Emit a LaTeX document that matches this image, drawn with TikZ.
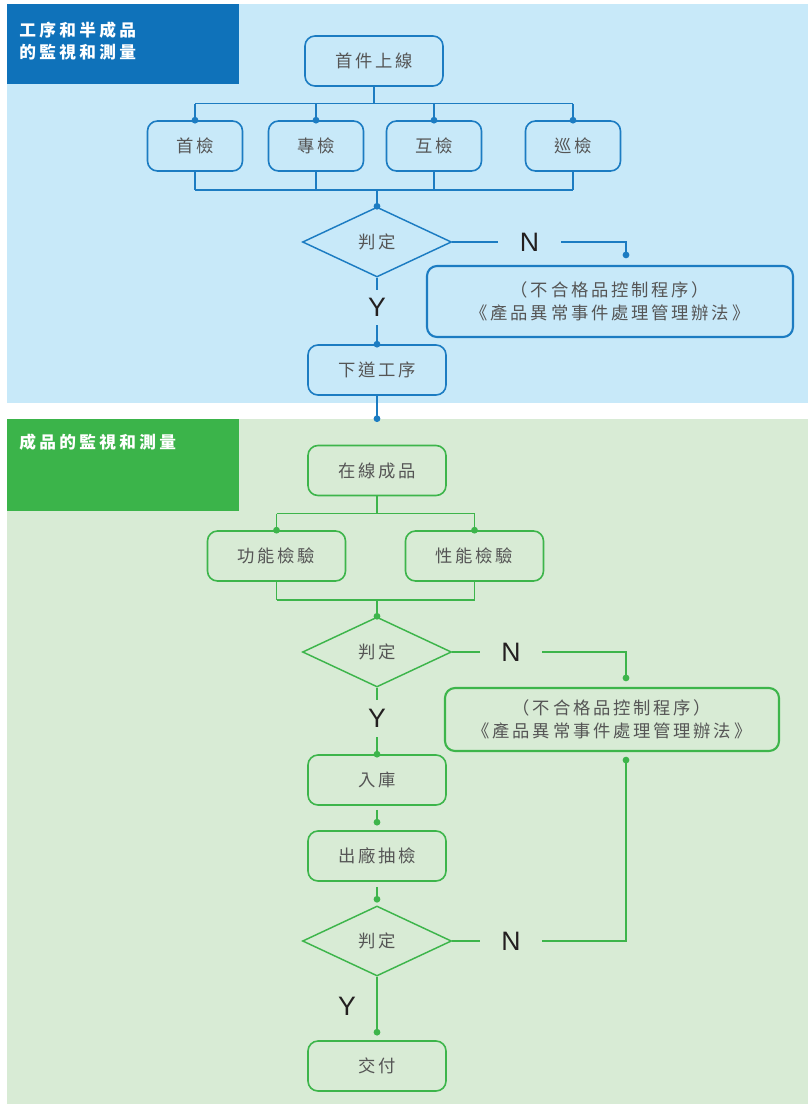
\documentclass[tikz,border=0pt]{standalone}
\usepackage{fontspec}
\usetikzlibrary{shapes.geometric,arrows.meta}
\newfontfamily\cjkfont[LetterSpace=16]{Noto Sans CJK TC}
\newfontfamily\titlefont[LetterSpace=20]{Noto Sans CJK TC}
\newfontfamily\latfont{Liberation Sans}
\definecolor{bluebg}{HTML}{C8E9F9}
\definecolor{bluedark}{HTML}{0F72BA}
\definecolor{blueline}{HTML}{1C7CC2}
\definecolor{greenbg}{HTML}{D8EBD5}
\definecolor{greendark}{HTML}{3BB44A}
\definecolor{greenline}{HTML}{3DB54B}
\definecolor{txtgray}{HTML}{555555}
\definecolor{ynblack}{HTML}{231F20}
\begin{document}
\begin{tikzpicture}[x=0.75pt,y=-0.75pt,
	box/.style={draw=#1,rounded corners=7.5pt,line width=1.2pt,inner sep=0pt,text=txtgray,
		font=\cjkfont\fontsize{13}{15}\selectfont},
	bigbox/.style={box=#1,minimum width=103.5pt,minimum height=37.5pt},
	smallbox/.style={box=#1,minimum width=71.25pt,minimum height=37.5pt},
	failbox/.style={box=#1,line width=1.6pt,align=center,font=\cjkfont\fontsize{13}{17.5}\selectfont},
	judge/.style={diamond,draw=#1,line width=1.1pt,inner sep=0pt,text=txtgray,
		minimum width=111.75pt,minimum height=52.5pt,font=\cjkfont\fontsize{13}{15}\selectfont},
	title/.style={anchor=west,align=left,inner sep=0pt,text=white,
		font=\titlefont\bfseries\fontsize{12.5}{16.5}\selectfont},
	yn/.style={inner sep=0pt,text=ynblack,font=\latfont\fontsize{20}{20}\selectfont},
	bline/.style={draw=blueline,line width=1pt},
	gline/.style={draw=greenline,line width=1pt},
	ondot/.style={-{Circle[length=5pt]},shorten >=-2.5pt},
	gapdot/.style={-{Circle[length=5pt]},shorten >=#1}]

	\useasboundingbox (0,0) rectangle (808,1107);
	\fill[bluebg] (7,4) rectangle (808,403);
	\fill[bluedark] (7,4) rectangle (239,84);
	\fill[greenbg] (7,419) rectangle (808,1104);
	\fill[greendark] (7,419) rectangle (239,511);

	\node[title] (title1) at (19,41) {工序和半成品\\的監視和測量};
	\node[title] (title2) at (19,442) {成品的監視和測量};

	% blue part
	\node[bigbox=blueline] (first) at (374,61) {首件上線};
	\node[smallbox=blueline] (shou) at (195,146) {首檢};
	\node[smallbox=blueline] (zhuan) at (316,146) {專檢};
	\node[smallbox=blueline] (hu) at (434,146) {互檢};
	\node[smallbox=blueline] (xun) at (573,146) {巡檢};
	\node[judge=blueline] (judge1) at (377,242) {判定};
	\node[yn,minimum width=47.25pt] (n1) at (529.5,242) {N};
	\node[failbox=blueline,minimum width=274.5pt,minimum height=53.25pt] (fail1) at (610,301.5) {（不合格品控制程序）\\《產品異常事件處理管理辦法》};
	\node[yn,minimum height=26.25pt] (y1) at (377,307.5) {Y};
	\node[bigbox=blueline] (next) at (377,370) {下道工序};

	\draw[bline] (first.south) -- ++(0,17) coordinate (fork1);
	\draw[bline] (shou.north |- fork1) -- (xun.north |- fork1);
	\foreach \b in {shou,zhuan,hu,xun}
		\draw[bline,ondot] (\b.north |- fork1) -- (\b.north);
	\coordinate (join1) at (377,190);
	\foreach \b in {shou,zhuan,hu,xun}
		\draw[bline] (\b.south) -- (\b.south |- join1);
	\draw[bline] (shou.south |- join1) -- (xun.south |- join1);
	\draw[bline,ondot] (join1) -- (judge1.north);
	\draw[bline] (judge1.east) -- (n1.west);
	\draw[bline,gapdot=5pt] (n1.east) -| ([xshift=12pt]fail1.north);
	\draw[bline] (judge1.south) -- (y1.north);
	\draw[bline,ondot] (y1.south) -- (next.north);

	% green part
	\node[bigbox=greenline] (online) at (377,470.5) {在線成品};
	\node[bigbox=greenline] (func) at (276.5,556) {功能檢驗};
	\node[bigbox=greenline] (perf) at (474.5,556) {性能檢驗};
	\node[judge=greenline] (judge2) at (377,652) {判定};
	\node[yn,minimum width=46.5pt] (n2) at (511,652) {N};
	\node[failbox=greenline,minimum width=250.5pt,minimum height=47.25pt] (fail2) at (612,719.5) {（不合格品控制程序）\\《產品異常事件處理管理辦法》};
	\node[yn,minimum height=27.75pt] (y2) at (377,718.5) {Y};
	\node[bigbox=greenline] (store) at (377,780) {入庫};
	\node[bigbox=greenline] (check) at (377,856) {出廠抽檢};
	\node[judge=greenline] (judge3) at (377,941) {判定};
	\node[yn,minimum width=46.5pt] (n3) at (511,941) {N};
	\node[yn] (y3) at (347,1006) {Y};
	\node[bigbox=greenline] (deliver) at (377,1066) {交付};

	\draw[bline,gapdot=17pt] (next.south) -- (online.north);
	\draw[gline] (online.south) -- ++(0,17.5) coordinate (fork2);
	\draw[gline] (func.north |- fork2) -- (perf.north |- fork2);
	\foreach \b in {func,perf}
		\draw[gline,ondot] (\b.north |- fork2) -- (\b.north);
	\coordinate (join2) at (377,600);
	\foreach \b in {func,perf}
		\draw[gline] (\b.south) -- (\b.south |- join2);
	\draw[gline] (func.south |- join2) -- (perf.south |- join2);
	\draw[gline,ondot] (join2) -- (judge2.north);
	\draw[gline] (judge2.east) -- (n2.west);
	\draw[gline,gapdot=4.25pt] (n2.east) -| ([xshift=10.5pt]fail2.north);
	\draw[gline] (judge2.south) -- (y2.north);
	\draw[gline,ondot] (y2.south) -- (store.north);
	\draw[gline,gapdot=3.5pt,shorten <=3pt] (store.south) -- (check.north);
	\draw[gline,gapdot=2pt,shorten <=3.75pt] (check.south) -- (judge3.north);
	\draw[gline] (judge3.east) -- (n3.west);
	\draw[gline,gapdot=3.5pt] (n3.east) -| ([xshift=10.5pt]fail2.south);
	\draw[gline,gapdot=3.5pt] (judge3.south) -- (deliver.north);
\end{tikzpicture}
\end{document}
